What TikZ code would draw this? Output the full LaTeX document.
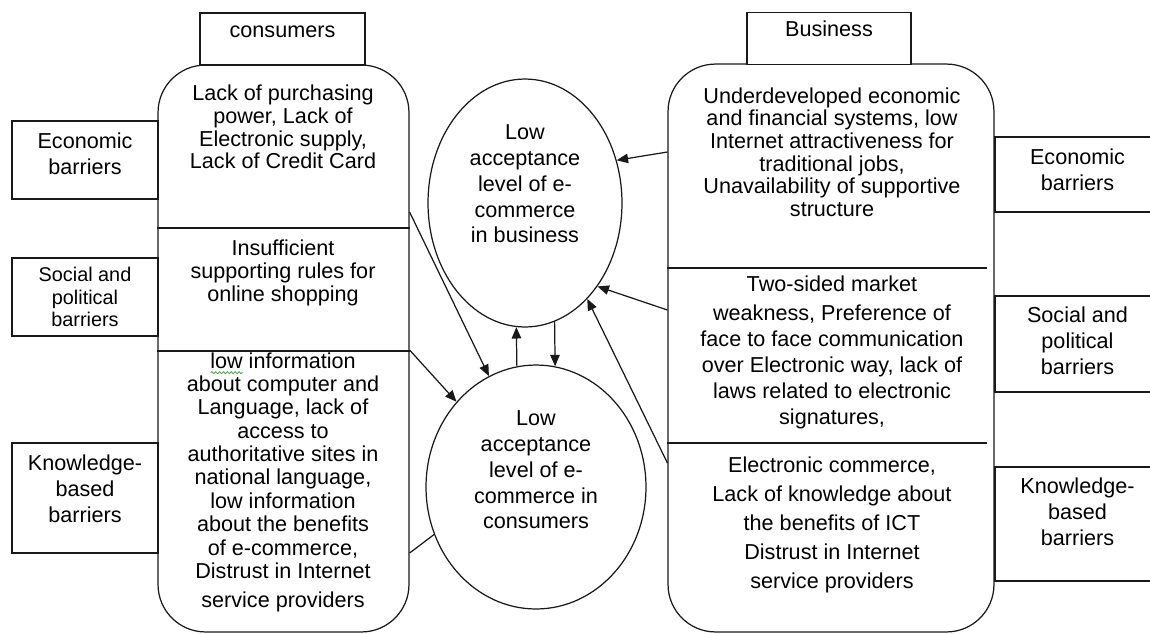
\documentclass[tikz,border=0pt]{standalone}
\usepackage{fontspec}
\setmainfont{Liberation Sans}
\usetikzlibrary{arrows.meta,shapes.geometric,decorations.pathmorphing}

\definecolor{spellgreen}{RGB}{70,165,70}
% word with a wavy proofing mark under it
\newlength{\flagwd}
\newcommand{\spellflag}[1]{\settowidth{\flagwd}{#1}%
  \rlap{\tikz[baseline=0pt]\draw[spellgreen, line width=0.45pt, decorate,
        decoration={snake, amplitude=0.6pt, segment length=2.2pt}]
        (0pt,-2.6pt) -- (\flagwd,-2.6pt);}#1}

\begin{document}
\begin{tikzpicture}[
    x=0.02cm, y=-0.02cm,
    every node/.style={font=\fontsize{12.3}{12.9}\selectfont},
    line/.style={draw=black!90, line width=0.7pt},
    panel/.style={line, rectangle, rounded corners=0.95cm, inner sep=0pt},
    tab/.style={line, fill=white, rectangle, minimum height=1.04cm,
                inner sep=0pt, text height=0.48cm, text depth=0.56cm},
    barrier/.style={line, fill=white, rectangle, inner sep=0pt},
    boxtext/.style={align=center, inner sep=0pt,
                font=\fontsize{12.3}{14.7}\selectfont},
    oval/.style={line, ellipse, fill=white, inner sep=0pt},
    txt/.style={align=center, inner sep=0pt},
    arrow/.style={line, -{Triangle[length=6.5pt,width=5.4pt]}}
]
  \clip (0,0) rectangle (1150,633);
  \fill[white] (0,0) rectangle (1150,633);

  % --- Two rounded panels ---
  \node[panel, minimum width=5.02cm, minimum height=11.34cm] (conspanel) at (283.5,348.5) {};
  \node[panel, minimum width=6.52cm, minimum height=11.36cm] (bizpanel)  at (831,348) {};

  % --- Section dividers ---
  \draw[line] (conspanel.west |- 0,228) -- (conspanel.east |- 0,228);
  \draw[line] (conspanel.west |- 0,351) -- (conspanel.east |- 0,351);
  \draw[line] (bizpanel.west |- 0,268) -- (987,268);
  \draw[line] (bizpanel.west |- 0,443) -- (987,443);

  % --- Title tabs ---
  \node[tab, minimum width=3.3cm]  (constitle) at (282.5,39) {consumers};
  \node[tab, minimum width=3.28cm] (biztitle)  at (829,38.5) {Business};

  % --- Barrier boxes, left ---
  \node[barrier, minimum width=2.92cm, minimum height=1.56cm,
        label={[boxtext, name=lecontext, yshift=0.12cm]center:Economic\\barriers}] (lecon) at (85,160) {};
  \node[barrier, minimum width=2.92cm, minimum height=1.56cm,
        label={[boxtext, name=lsoctext, font=\fontsize{11.3}{12.8}\selectfont]center:Social and\\political\\barriers}] (lsoc) at (85,297) {};
  \node[barrier, minimum width=2.92cm, minimum height=2.2cm,
        label={[boxtext, name=lknowtext, yshift=0.18cm]center:Knowledge-\\based\\barriers}] (lknow) at (85,498) {};

  % --- Barrier boxes, right (run off the edge) ---
  \node[barrier, minimum width=4.1cm, minimum height=1.5cm,
        label={[boxtext, name=recontext, xshift=-0.4cm, yshift=0.09cm]center:Economic\\barriers}] (recon) at (1097.5,174.5) {};
  \node[barrier, minimum width=4.1cm, minimum height=1.92cm,
        label={[boxtext, name=rsoctext, xshift=-0.4cm, yshift=0.06cm]center:Social and\\political\\barriers}] (rsoc) at (1097.5,344) {};
  \node[barrier, minimum width=4.1cm, minimum height=2.28cm,
        label={[boxtext, name=rknowtext, xshift=-0.4cm, yshift=0.24cm]center:Knowledge-\\based\\barriers}] (rknow) at (1097.5,524) {};

  % --- Consumer panel texts ---
  \node[txt] (consA) at (283,127) {Lack of purchasing\\power, Lack of\\Electronic supply,\\Lack of Credit Card};
  \node[txt] (consB) at (283,273) {Insufficient\\supporting rules for\\online shopping};
  \node[txt, font=\fontsize{12.3}{13.3}\selectfont] (consC) at (283,482)
    {\spellflag{low} information\\about computer and\\Language, lack of\\access to\\authoritative sites in\\national language,\\low information\\about the benefits\\of e-commerce,\\Distrust in Internet\\[3pt]service providers};

  % --- Business panel texts ---
  \node[txt] (bizA) at (832,152) {Underdeveloped economic\\and financial systems, low\\Internet attractiveness for\\traditional jobs,\\Unavailability of supportive\\structure};
  \node[txt, font=\fontsize{12.3}{14.7}\selectfont] (bizB) at (832,352)
    {Two-sided market\\[2.3pt]weakness, Preference of\\face to face communication\\over Electronic way, lack of\\laws related to electronic\\signatures,};
  \node[txt, font=\fontsize{12.3}{16.4}\selectfont] (bizC) at (832,525)
    {Electronic commerce,\\Lack of knowledge about\\the benefits of ICT\\Distrust in Internet\\service providers};

  % --- Acceptance ovals ---
  \node[oval, minimum width=3.88cm, minimum height=4.96cm,
        label={[boxtext, name=biztext, yshift=0.38cm]center:Low\\acceptance\\level of e-\\commerce\\in business}]
        (bizoval) at (525,203) {};
  \node[oval, minimum width=4.4cm, minimum height=4.88cm,
        label={[boxtext, name=constext, yshift=0.34cm]center:Low\\acceptance\\level of e-\\commerce in\\consumers}]
        (consoval) at (536,487) {};

  % --- Business barriers feed the business oval ---
  \draw[arrow] (bizpanel.west |- 0,152) -- (bizoval.25);
  \draw[arrow] (bizpanel.west |- 0,310) -- (bizoval.-49);
  \draw[arrow] (bizpanel.west |- 0,463) -- (bizoval.-57);

  % --- Consumer barriers feed the consumer oval ---
  \draw[arrow] (conspanel.east |- 0,212) -- (consoval.113);
  \draw[arrow] (conspanel.east |- 0,350) -- (consoval.133);
  \draw[line]  (conspanel.east |- 0,553) -- (consoval.205);

  % --- Two-way link between the ovals ---
  \draw[arrow] (consoval.99) -- (bizoval.266);
  \draw[arrow] (bizoval.284) -- (consoval.81);
\end{tikzpicture}
\end{document}
